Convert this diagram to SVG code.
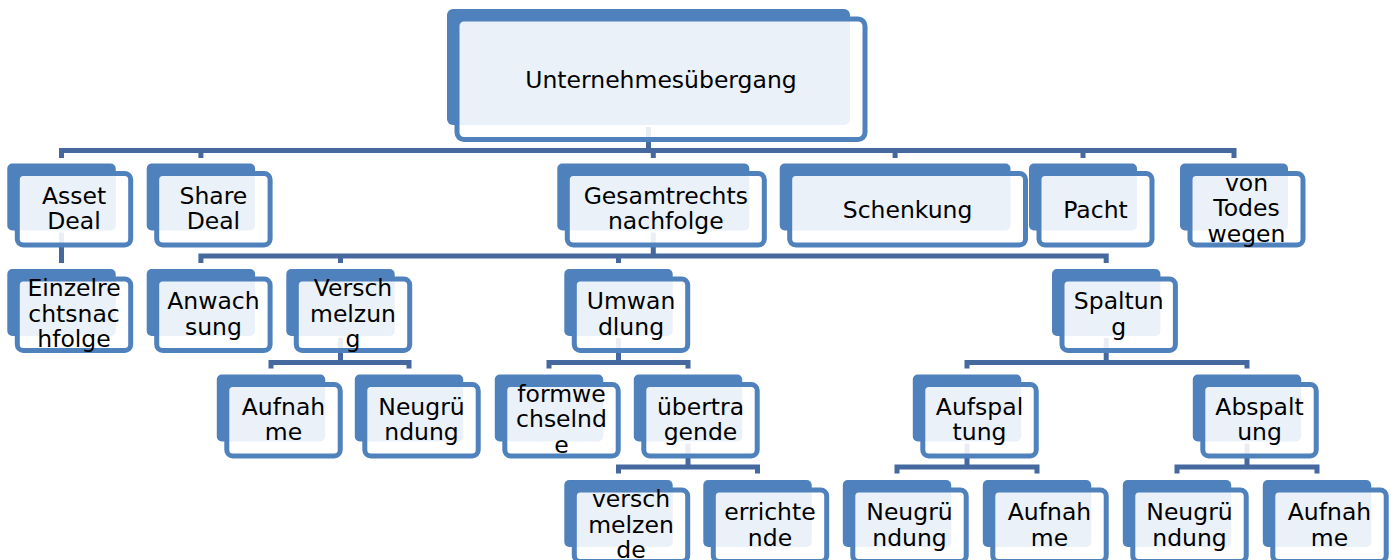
<svg xmlns="http://www.w3.org/2000/svg" width="1395" height="560" viewBox="0 0 1395 560">
<style>
.back{fill:#4F81BD}
.front{fill:#FFFFFF;fill-opacity:0.885;stroke:#4F81BD;stroke-width:5}
.conn{fill:none;stroke:#45699E;stroke-width:5;stroke-linejoin:miter;stroke-linecap:butt}
text{font-family:"DejaVu Sans",Verdana,sans-serif;font-size:23.5px;fill:#000;text-anchor:middle}
</style>
<rect width="1395" height="560" fill="#FFFFFF"/>
<g id="connectors">
<path class="conn" d="M648.5 127V150.5M61.5 158V150.5H1234V158M200.9 150.5V158M653.3 150.5V158M895.1 150.5V158M1083 150.5V158"/>
<path class="conn" d="M61.5 232.5V263"/>
<path class="conn" d="M653.3 232.5V256M200.9 263V256H1106.2V263M340.5 256V263M618.5 256V263"/>
<path class="conn" d="M340.5 338V362.5M271 368.5V362.5H409V368.5"/>
<path class="conn" d="M618.5 338V362.5M549 368.5V362.5H688V368.5"/>
<path class="conn" d="M1106.2 338V362.5M967 368.5V362.5H1247V368.5"/>
<path class="conn" d="M688 443.5V467M618.5 473.5V467H757.5V473.5"/>
<path class="conn" d="M967 443.5V467M897 473.5V467H1037V473.5"/>
<path class="conn" d="M1247 443.5V467M1177 473.5V467H1317V473.5"/>
</g>
<g id="n-root"><rect class="back" x="447" y="9" width="403" height="116" rx="6"/><rect class="front" x="457" y="19" width="408" height="120.5" rx="7"/><text x="661" y="88">Unternehmesübergang</text></g>
<g id="n-asset"><rect class="back" x="7.3" y="163.5" width="108.4" height="67" rx="5"/><rect class="front" x="17.3" y="173.5" width="113.4" height="71.5" rx="6"/><text x="74" y="203.75">Asset</text><text x="74" y="229.25">Deal</text></g>
<g id="n-share"><rect class="back" x="146.7" y="163.5" width="108.4" height="67" rx="5"/><rect class="front" x="156.7" y="173.5" width="113.4" height="71.5" rx="6"/><text x="213.4" y="203.75">Share</text><text x="213.4" y="229.25">Deal</text></g>
<g id="n-gesamt"><rect class="back" x="557.3" y="163.5" width="192" height="67" rx="5"/><rect class="front" x="567.3" y="173.5" width="197" height="71.5" rx="6"/><text x="665.8" y="203.75">Gesamtrechts</text><text x="665.8" y="229.25">nachfolge</text></g>
<g id="n-schenkung"><rect class="back" x="779.7" y="163.5" width="230.8" height="67" rx="5"/><rect class="front" x="789.7" y="173.5" width="235.8" height="71.5" rx="6"/><text x="907.6" y="217.75">Schenkung</text></g>
<g id="n-pacht"><rect class="back" x="1029" y="163.5" width="108" height="67" rx="5"/><rect class="front" x="1039" y="173.5" width="113" height="71.5" rx="6"/><text x="1095.5" y="217.75">Pacht</text></g>
<g id="n-todes"><rect class="back" x="1180" y="163.5" width="108" height="67" rx="5"/><rect class="front" x="1190" y="173.5" width="113" height="71.5" rx="6"/><text x="1246.5" y="190.75">von</text><text x="1246.5" y="216.25">Todes</text><text x="1246.5" y="241.75">wegen</text></g>
<g id="n-einzel"><rect class="back" x="7.3" y="269" width="108.4" height="67" rx="5"/><rect class="front" x="17.3" y="279" width="113.4" height="71.5" rx="6"/><text x="74" y="296.25">Einzelre</text><text x="74" y="321.75">chtsnac</text><text x="74" y="347.25">hfolge</text></g>
<g id="n-anwachs"><rect class="back" x="146.7" y="269" width="108.4" height="67" rx="5"/><rect class="front" x="156.7" y="279" width="113.4" height="71.5" rx="6"/><text x="213.4" y="309.25">Anwach</text><text x="213.4" y="334.75">sung</text></g>
<g id="n-verschm"><rect class="back" x="286.3" y="269" width="108.4" height="67" rx="5"/><rect class="front" x="296.3" y="279" width="113.4" height="71.5" rx="6"/><text x="353" y="296.25">Versch</text><text x="353" y="321.75">melzun</text><text x="353" y="347.25">g</text></g>
<g id="n-umwand"><rect class="back" x="564.3" y="269" width="108.4" height="67" rx="5"/><rect class="front" x="574.3" y="279" width="113.4" height="71.5" rx="6"/><text x="631" y="309.25">Umwan</text><text x="631" y="334.75">dlung</text></g>
<g id="n-spaltung"><rect class="back" x="1052" y="269" width="108.4" height="67" rx="5"/><rect class="front" x="1062" y="279" width="113.4" height="71.5" rx="6"/><text x="1118.7" y="309.25">Spaltun</text><text x="1118.7" y="334.75">g</text></g>
<g id="n-aufnahme1"><rect class="back" x="216.8" y="374.5" width="108.4" height="67" rx="5"/><rect class="front" x="226.8" y="384.5" width="113.4" height="71.5" rx="6"/><text x="283.5" y="414.75">Aufnah</text><text x="283.5" y="440.25">me</text></g>
<g id="n-neugr1"><rect class="back" x="354.8" y="374.5" width="108.4" height="67" rx="5"/><rect class="front" x="364.8" y="384.5" width="113.4" height="71.5" rx="6"/><text x="421.5" y="414.75">Neugrü</text><text x="421.5" y="440.25">ndung</text></g>
<g id="n-formw"><rect class="back" x="494.8" y="374.5" width="108.4" height="67" rx="5"/><rect class="front" x="504.8" y="384.5" width="113.4" height="71.5" rx="6"/><text x="561.5" y="401.75">formwe</text><text x="561.5" y="427.25">chselnd</text><text x="561.5" y="452.75">e</text></g>
<g id="n-uebertr"><rect class="back" x="633.8" y="374.5" width="108.4" height="67" rx="5"/><rect class="front" x="643.8" y="384.5" width="113.4" height="71.5" rx="6"/><text x="700.5" y="414.75">übertra</text><text x="700.5" y="440.25">gende</text></g>
<g id="n-aufspalt"><rect class="back" x="912.8" y="374.5" width="108.4" height="67" rx="5"/><rect class="front" x="922.8" y="384.5" width="113.4" height="71.5" rx="6"/><text x="979.5" y="414.75">Aufspal</text><text x="979.5" y="440.25">tung</text></g>
<g id="n-abspalt"><rect class="back" x="1192.8" y="374.5" width="108.4" height="67" rx="5"/><rect class="front" x="1202.8" y="384.5" width="113.4" height="71.5" rx="6"/><text x="1259.5" y="414.75">Abspalt</text><text x="1259.5" y="440.25">ung</text></g>
<g id="n-verschmz"><rect class="back" x="564.3" y="480" width="108.4" height="67" rx="5"/><rect class="front" x="574.3" y="490" width="113.4" height="71.5" rx="6"/><text x="631" y="507.25">versch</text><text x="631" y="532.75">melzen</text><text x="631" y="558.25">de</text></g>
<g id="n-erricht"><rect class="back" x="703.3" y="480" width="108.4" height="67" rx="5"/><rect class="front" x="713.3" y="490" width="113.4" height="71.5" rx="6"/><text x="770" y="520.25">errichte</text><text x="770" y="545.75">nde</text></g>
<g id="n-neugr2"><rect class="back" x="842.8" y="480" width="108.4" height="67" rx="5"/><rect class="front" x="852.8" y="490" width="113.4" height="71.5" rx="6"/><text x="909.5" y="520.25">Neugrü</text><text x="909.5" y="545.75">ndung</text></g>
<g id="n-aufn2"><rect class="back" x="982.8" y="480" width="108.4" height="67" rx="5"/><rect class="front" x="992.8" y="490" width="113.4" height="71.5" rx="6"/><text x="1049.5" y="520.25">Aufnah</text><text x="1049.5" y="545.75">me</text></g>
<g id="n-neugr3"><rect class="back" x="1122.8" y="480" width="108.4" height="67" rx="5"/><rect class="front" x="1132.8" y="490" width="113.4" height="71.5" rx="6"/><text x="1189.5" y="520.25">Neugrü</text><text x="1189.5" y="545.75">ndung</text></g>
<g id="n-aufn3"><rect class="back" x="1262.8" y="480" width="108.4" height="67" rx="5"/><rect class="front" x="1272.8" y="490" width="113.4" height="71.5" rx="6"/><text x="1329.5" y="520.25">Aufnah</text><text x="1329.5" y="545.75">me</text></g>
</svg>
